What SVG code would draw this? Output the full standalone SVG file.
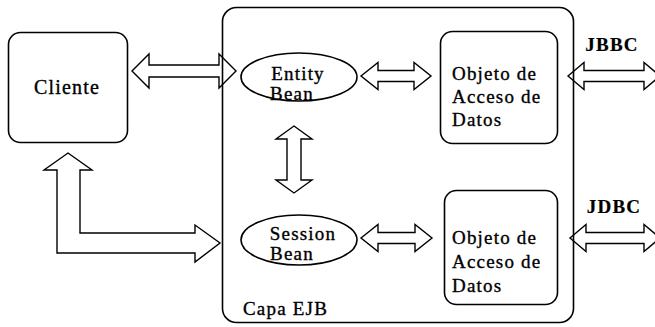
<svg xmlns="http://www.w3.org/2000/svg" width="655" height="327" viewBox="0 0 655 327">
<style>
.box{fill:none;stroke:#000;stroke-width:1.6}
.arr{fill:none;stroke:#000;stroke-width:1.4;stroke-linejoin:miter}
.t{font-family:"Liberation Serif","Times New Roman",serif;font-size:19px;letter-spacing:1.2px;fill:#000;stroke:#000;stroke-width:0.35}
.b{font-weight:bold;stroke-width:0.2}
</style>
<rect width="655" height="327" fill="#fff"/>
<g id="capa-ejb">
<rect class="box" x="222.5" y="7.5" width="351" height="315" rx="14"/>
<text class="t" x="243" y="315">Capa EJB</text>
</g>
<g id="cliente">
<rect class="box" x="8.5" y="32.5" width="119" height="110" rx="12"/>
<text class="t" x="67" y="94" text-anchor="middle" style="font-size:20px">Cliente</text>
</g>
<g id="entity-bean">
<ellipse class="box" cx="299" cy="77" rx="58" ry="24"/>
<text class="t" x="298" y="80" text-anchor="middle">Entity</text>
<text class="t" x="292" y="100" text-anchor="middle">Bean</text>
</g>
<g id="session-bean">
<ellipse class="box" cx="299" cy="240" rx="58" ry="25"/>
<text class="t" x="303" y="240" text-anchor="middle">Session</text>
<text class="t" x="292" y="260" text-anchor="middle">Bean</text>
</g>
<g id="dao1">
<rect class="box" x="440.5" y="31.5" width="117" height="112" rx="12"/>
<text class="t" x="452" y="80">Objeto de</text>
<text class="t" x="452" y="103">Acceso de</text>
<text class="t" x="452" y="126">Datos</text>
</g>
<g id="dao2">
<rect class="box" x="444.5" y="190.5" width="113" height="114" rx="12"/>
<text class="t" x="452" y="244">Objeto de</text>
<text class="t" x="452" y="268">Acceso de</text>
<text class="t" x="452" y="292">Datos</text>
</g>
<g id="jbbc"><text class="t b" x="612" y="51" text-anchor="middle">JBBC</text></g>
<g id="jdbc"><text class="t b" x="614" y="213" text-anchor="middle">JDBC</text></g>
<g id="connectors">
<polygon class="arr" points="132,71 149,54 149,65 219,65 219,54 236,71 219,88 219,77 149,77 149,88"/>
<polygon class="arr" points="361,76 378,62.5 378,70.5 414,70.5 414,62.5 431,76 414,89.5 414,81.5 378,81.5 378,89.5"/>
<polygon class="arr" points="361,238 378,224.5 378,232.5 415,232.5 415,224.5 432,238 415,251.5 415,243.5 378,243.5 378,251.5"/>
<polygon class="arr" points="568,76 584,62.5 584,70.5 644,70.5 644,62.5 660,76 644,89.5 644,81.5 584,81.5 584,89.5"/>
<polygon class="arr" points="570,238 586,224.5 586,232.5 644,232.5 644,224.5 660,238 644,251.5 644,243.5 586,243.5 586,251.5"/>
<polygon class="arr" points="294,126 312,139 301,139 301,180 312,180 294,193 276,180 287,180 287,139 276,139"/>
<polygon class="arr" points="68,153 92,170 80,170 80,233 195,233 195,225 220,243 195,262 195,253 57,253 57,170 44,170"/>
</g>
</svg>
